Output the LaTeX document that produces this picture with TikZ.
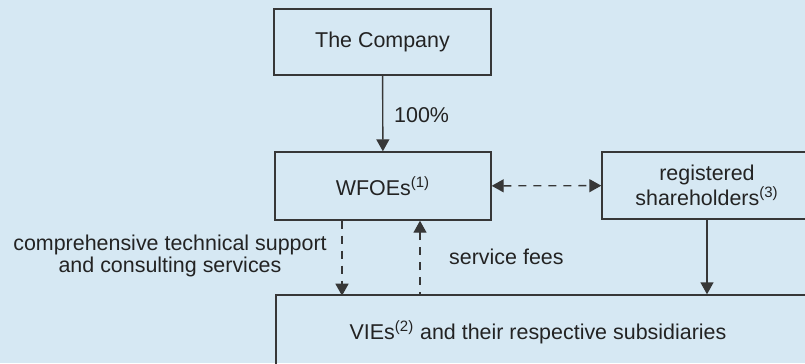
\documentclass[tikz,border=0pt]{standalone}
\usepackage{fontspec}
\setmainfont{Liberation Sans}
\usepackage{xcolor}
\usetikzlibrary{arrows.meta}

\definecolor{bgblue}{RGB}{214,232,243}
\definecolor{linegray}{RGB}{55,55,55}
\definecolor{textgray}{RGB}{35,35,35}

\begin{document}
\begin{tikzpicture}[
        font=\fontsize{12.2}{12.5}\selectfont,
        text=textgray,
        box node/.style={rectangle, draw=linegray, line width=.8pt, inner sep=0pt, align=center},
        tip/.tip={Triangle[width=.26cm,length=.24cm]},
        flow/.style={draw=linegray, line width=.8pt, -tip},
        back flow/.style={draw=linegray, line width=.8pt, tip-},
        both flow/.style={draw=linegray, line width=.8pt, tip-tip},
        dash line/.style={dash pattern=on .16cm off .14cm},
    ]

    \fill[bgblue] (0,0) rectangle (16.1,7.26);
    \useasboundingbox (0,0) rectangle (16.1,7.26);
    \clip (0,0) rectangle (16.1,7.26);

    \node[box node, minimum width=4.34cm, minimum height=1.32cm] (company) at (7.65,6.42) {The Company};
    \node[box node, minimum width=4.32cm, minimum height=1.36cm] (wfoe) at (7.66,3.54) {WFOEs\textsuperscript{(1)}};
    \node[box node, minimum width=4.2cm, minimum height=1.34cm] (holders) at (14.14,3.55) {registered\\shareholders\textsuperscript{(3)}};
    \node[box node, minimum width=10.72cm, minimum height=1.5cm] (vie) at (10.88,0.61) {};

    \node (vietext) at (10.76,0.62) {VIEs\textsuperscript{(2)} and their respective subsidiaries};
    \node[anchor=west] (pct) at (7.76,4.96) {100\%};
    \node[align=center] (support) at (3.4,2.15) {comprehensive technical support\\and consulting services};
    \node[anchor=west] (fees) at (8.86,2.12) {service fees};

    \draw[flow] (company) -- (wfoe);
    \draw[both flow, dash line] (wfoe) -- (holders);
    \draw[flow, dash line] ([xshift=-.82cm]wfoe.south) -- ++(0,-1.5);
    \draw[back flow, dash line] ([xshift=.74cm]wfoe.south) -- ++(0,-1.5);
    \draw[flow] (holders.south) -- (holders.south |- vie.north);
\end{tikzpicture}
\end{document}
